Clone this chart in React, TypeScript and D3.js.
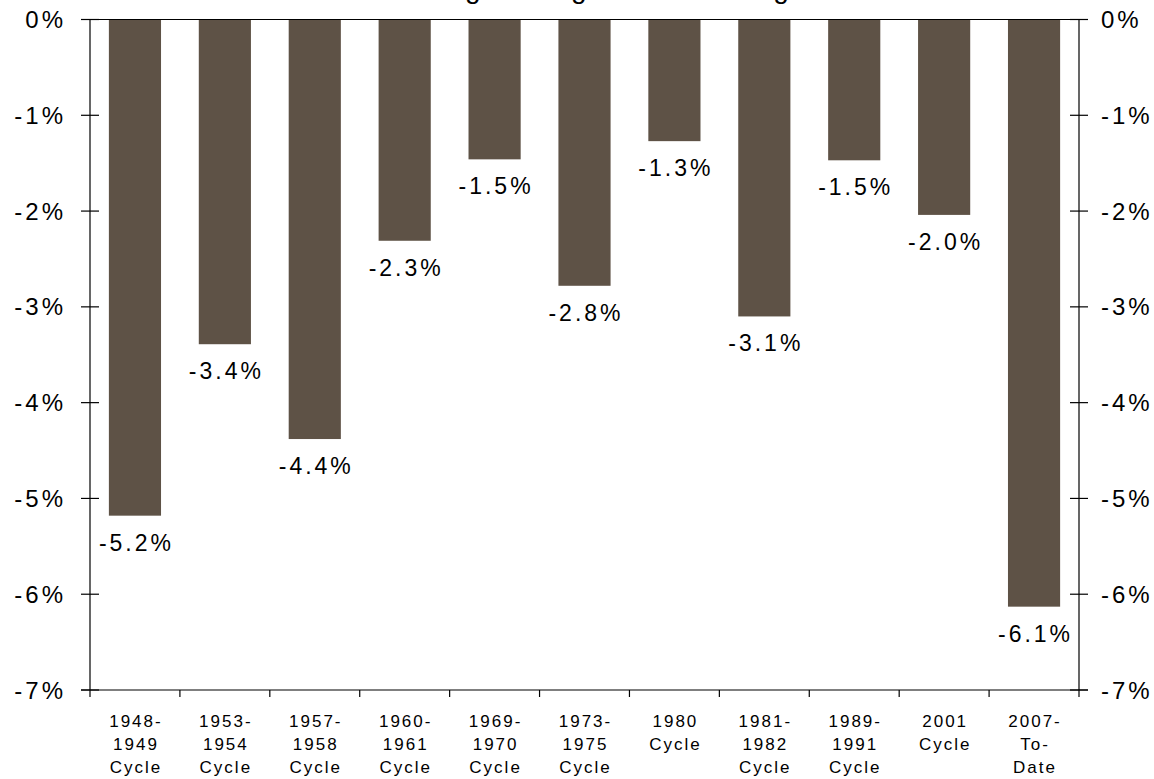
import React from "react";
import * as d3 from "d3";

const categories: string[][] = [
  ["1948-", "1949", "Cycle"],
  ["1953-", "1954", "Cycle"],
  ["1957-", "1958", "Cycle"],
  ["1960-", "1961", "Cycle"],
  ["1969-", "1970", "Cycle"],
  ["1973-", "1975", "Cycle"],
  ["1980", "Cycle"],
  ["1981-", "1982", "Cycle"],
  ["1989-", "1991", "Cycle"],
  ["2001", "Cycle"],
  ["2007-", "To-", "Date"],
];
const values: number[] = [-5.18, -3.39, -4.38, -2.31, -1.46, -2.78, -1.27, -3.1, -1.47, -2.04, -6.13];
const yTicks: number[] = [0, -1, -2, -3, -4, -5, -6, -7];
const title = "Percentage Change in Jobs During Recessions";

const W = 1154;
const H = 779;
const left = 90;
const right = 1079;
const top = 19.5;
const bottom = 690;
const FONT = "'Liberation Sans', Arial, sans-serif";
const BAR = "#5E5246";

export default function App() {
  const keys = categories.map((c) => c.join(" "));
  const x = d3.scaleBand<string>().domain(keys).range([left, right]).paddingInner(0.42).paddingOuter(0.21);
  const band = d3.scaleBand<string>().domain(keys).range([left, right]).padding(0);
  const y = d3.scaleLinear().domain([-7, 0]).range([bottom, top]);
  const fmt = (v: number) => `${v.toFixed(1)}%`;

  return (
    <svg
      width={W}
      height={H}
      style={{ position: "absolute", left: 0, top: 0, background: "#fff" }}
      fontFamily={FONT}
    >
      <rect x={0} y={0} width={W} height={H} fill="#fff" />
      <text x={353} y={-2} fontSize={28} fill="#000">
        {title}
      </text>
      {/* bars */}
      {values.map((v, i) => (
        <rect
          key={i}
          x={x(keys[i])!}
          y={y(0)}
          width={x.bandwidth()}
          height={y(v) - y(0)}
          fill={BAR}
        />
      ))}
      {/* value labels */}
      {values.map((v, i) => (
        <text
          key={"l" + i}
          x={x(keys[i])! + x.bandwidth() / 2 + 1.5}
          y={y(v) + 35}
          fontSize={23}
          letterSpacing={3}
          textAnchor="middle"
          fill="#000"
        >
          {fmt(v)}
        </text>
      ))}
      {/* axes */}
      <line x1={left} x2={left} y1={top} y2={bottom} stroke="#000" strokeWidth={1.2} />
      <line x1={right} x2={right} y1={top} y2={bottom} stroke="#000" strokeWidth={1.2} />
      <line x1={81} x2={1088} y1={y(0)} y2={y(0)} stroke="#000" strokeWidth={1.2} />
      <line x1={81} x2={1088} y1={y(-7)} y2={y(-7)} stroke="#000" strokeWidth={1.2} />
      {yTicks.map((t) => (
        <g key={"t" + t}>
          <line x1={81} x2={99} y1={y(t)} y2={y(t)} stroke="#000" strokeWidth={1.2} />
          <line x1={1070} x2={1088} y1={y(t)} y2={y(t)} stroke="#000" strokeWidth={1.2} />
          <text x={66} y={y(t) + 8.5} fontSize={24} letterSpacing={3} textAnchor="end" fill="#000">
            {`${t}%`}
          </text>
          <text x={1101} y={y(t) + 8.5} fontSize={24} letterSpacing={3} textAnchor="start" fill="#000">
            {`${t}%`}
          </text>
        </g>
      ))}
      {/* category ticks */}
      {keys.map((k, i) => (
        <line key={"c" + i} x1={band(k)!} x2={band(k)!} y1={bottom} y2={bottom + 7} stroke="#000" strokeWidth={1.2} />
      ))}
      <line x1={right} x2={right} y1={bottom} y2={bottom + 7} stroke="#000" strokeWidth={1.2} />
      {/* category labels */}
      {categories.map((lines, i) => (
        <text
          key={"cl" + i}
          x={band(keys[i])! + band.bandwidth() / 2 + 1}
          fontSize={17}
          letterSpacing={2}
          textAnchor="middle"
          fill="#000"
        >
          {lines.map((ln, j) => (
            <tspan key={j} x={band(keys[i])! + band.bandwidth() / 2 + 1} y={727 + j * 23}>
              {ln}
            </tspan>
          ))}
        </text>
      ))}
    </svg>
  );
}
